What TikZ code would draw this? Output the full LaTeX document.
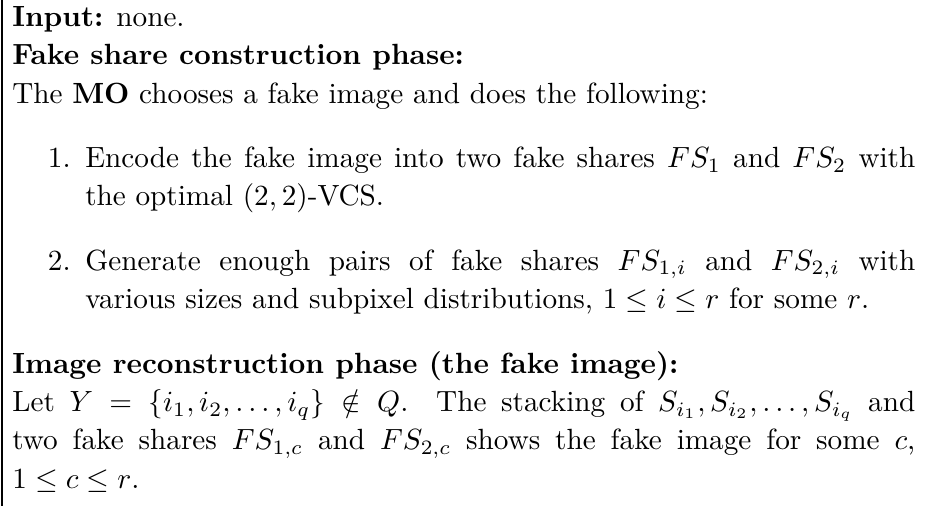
\documentclass[tikz,border=0pt]{standalone}
\usepackage{amsmath}
\usepackage{amssymb}
\usepackage{enumitem}
\usepackage{tikz}
\usetikzlibrary{positioning}

\begin{document}
\begin{tikzpicture}[
    algtext/.style={inner sep=0pt, anchor=north west, text width=309pt, align=justify, font=\fontsize{10}{13.1}\selectfont},
    rule/.style={draw=black, line width=0.6pt}
]
    % page frame
    \useasboundingbox (0,0) rectangle (316.5pt,-173.1pt);

    % Algorithm text
    \node[algtext] (alg) at (4pt,-2.0pt) {%
        \setlength{\parindent}{0pt}%
        \textbf{Input:} none.\\
        \textbf{Fake share construction phase:}\\
        The \textbf{MO} chooses a fake image and does the following:
        \begin{enumerate}[topsep=9pt, itemsep=4.5pt, parsep=4.5pt]
            \item Encode the fake image into two fake shares $FS_1$ and $FS_2$ with\linebreak the optimal $(2,2)$-VCS.
            \item Generate enough pairs of fake shares $FS_{1,i}$ and $FS_{2,i}$ with\linebreak various sizes and subpixel distributions, $1\le i\le r$ for some $r$.
        \end{enumerate}
        \textbf{Image reconstruction phase (the fake image):}\\
        Let $Y=\{i_1,i_2,\ldots,i_q\}\notin Q$. The stacking of $S_{i_1},S_{i_2},\ldots,S_{i_q}$ and\linebreak two fake shares $FS_{1,c}$ and $FS_{2,c}$ shows the fake image for some $c$,\linebreak $1\le c\le r$.
    };

    % Left rule
    \coordinate (ruletop) at (0.8pt,0);
    \coordinate (rulebot) at (0.8pt,-173.1pt);
    \draw[rule] (ruletop) -- (rulebot);
\end{tikzpicture}
\end{document}
